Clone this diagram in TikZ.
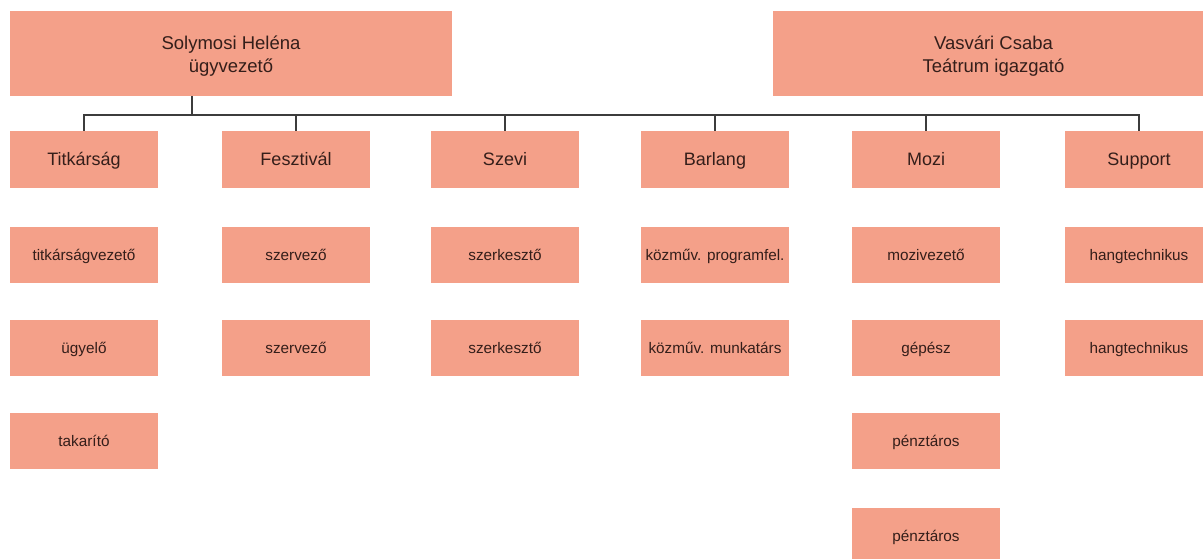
\documentclass[tikz,border=0pt]{standalone}
\usepackage{fontspec}
\setmainfont{Liberation Sans}
\definecolor{boxfill}{RGB}{244,160,137}
\definecolor{boxtext}{RGB}{52,30,26}
\definecolor{linecol}{RGB}{60,60,60}
\newcommand{\toplift}{\rule{0pt}{19pt}}
\tikzset{
  base/.style={fill=boxfill, draw=none, inner sep=0pt, text=boxtext, align=center},
  topbox/.style={base, minimum width=442pt, minimum height=85pt, font=\fontsize{18.5}{23}\selectfont},
  deptbox/.style={base, minimum width=148pt, minimum height=57pt, font=\fontsize{18}{22}\selectfont, text height=12.9pt, text depth=0pt},
  subbox/.style={base, minimum width=148pt, minimum height=56pt, font=\fontsize{15.3}{18}\selectfont, text height=11pt, text depth=0pt},
  conn/.style={draw=linecol, line width=1.5pt}
}
\begin{document}
\begin{tikzpicture}[x=1pt,y=-1pt]
\useasboundingbox (0,0) rectangle (1203,558);
\clip (0,0) rectangle (1203,558);
\fill[white] (0,0) rectangle (1203,558);
% top
\node[topbox] (sol) at (231,53.5) {\toplift Solymosi Heléna\\ügyvezető};
\node[topbox] (vas) at (993.5,53.5) {\toplift Vasvári Csaba\\Teátrum igazgató};
% departments
\node[deptbox] (tit) at (84,159.5) {Titkárság};
\node[deptbox] (fes) at (296,159.5) {Fesztivál};
\node[deptbox] (sze) at (505,159.5) {Szevi};
\node[deptbox] (bar) at (715,159.5) {Barlang};
\node[deptbox] (moz) at (926,159.5) {Mozi};
\node[deptbox] (sup) at (1139,159.5) {Support};
% sub boxes
\node[subbox] (tit1) at (84,254.5) {titkárságvezető};
\node[subbox] (tit2) at (84,348) {ügyelő};
\node[subbox] (tit3) at (84,441) {takarító};
\node[subbox] (fes1) at (296,254.5) {szervező};
\node[subbox] (fes2) at (296,348) {szervező};
\node[subbox] (sze1) at (505,254.5) {szerkesztő};
\node[subbox] (sze2) at (505,348) {szerkesztő};
\node[subbox] (bar1) at (715,254.5) {közműv. programfel.};
\node[subbox] (bar2) at (715,348) {közműv. munkatárs};
\node[subbox] (moz1) at (926,254.5) {mozivezető};
\node[subbox] (moz2) at (926,348) {gépész};
\node[subbox] (moz3) at (926,441) {pénztáros};
\node[subbox] (moz4) at (926,536) {pénztáros};
\node[subbox] (sup1) at (1139,254.5) {hangtechnikus};
\node[subbox] (sup2) at (1139,348) {hangtechnikus};
% connectors
\coordinate (j) at (192,115);
\draw[conn] (j |- sol.south) -- (j);
\draw[conn] (tit.north) |- (j) -| (sup.north);
\foreach \n in {fes,sze,bar,moz} {
  \draw[conn] (\n.north) -- (\n.north |- j);
}
\end{tikzpicture}
\end{document}
